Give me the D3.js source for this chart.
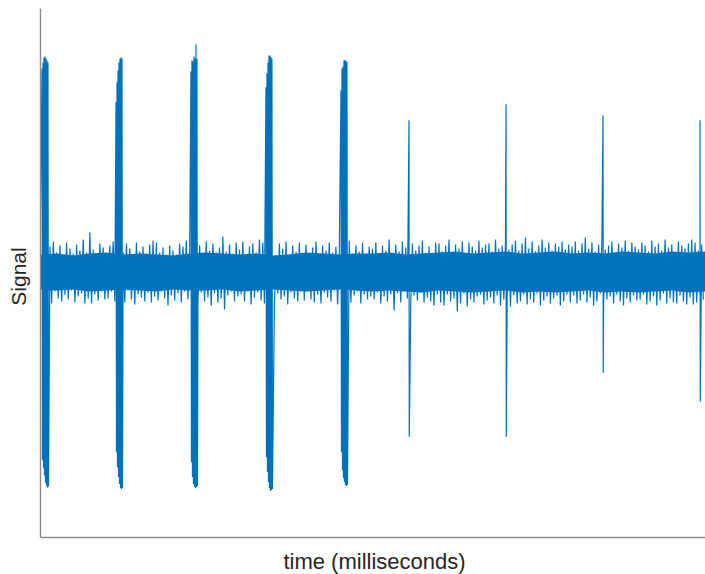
<!DOCTYPE html>
<html>
<head>
<meta charset="utf-8">
<script src="https://cdn.jsdelivr.net/npm/d3@7"></script>
<style>
  html, body { margin: 0; padding: 0; background: #fff; }
  svg { display: block; }
</style>
</head>
<body>
<svg id="chart" width="705" height="574"></svg>
<script>
// ---------------- DATA ----------------
// Noise envelope, one sample every 5 ms (t = 0, 5, ..., 995): upper and lower extremes
const noiseStepMs = 5;
const noiseTop = [
  21,29,18,26,31,20,27,17,30,24,19,28,22,33,20,40,23,18,29,25,
  19,27,31,22,18,20,29,24,17,30,21,26,19,28,32,30,20,25,18,27,
  22,18,29,26,32,19,24,30,27,17,31,22,29,20,25,36,21,28,19,30,
  23,31,18,26,29,20,33,30,19,27,22,17,29,24,31,18,27,21,30,19,
  28,19,25,31,18,27,22,30,20,26,17,29,23,32,19,27,21,30,18,26,
  24,30,19,27,22,33,18,28,21,31,25,18,29,22,27,32,20,26,19,30,
  29,21,27,33,20,28,24,31,19,30,26,22,32,25,28,29,21,33,24,27,
  30,23,28,32,22,29,35,24,31,21,27,33,25,30,22,29,26,31,23,28,
  26,31,22,29,35,24,30,21,28,33,23,27,31,20,29,25,32,22,30,26,
  23,30,27,21,32,26,29,22,33,25,28,20,31,27,24,29,33,30,22,28
];
const noiseBottom = [
  -20,-28,-23,-31,-19,-26,-29,-22,-27,-18,-30,-24,-21,-31,-26,-31,-22,-28,-19,-27,
  -26,-19,-29,-23,-21,-30,-18,-27,-32,-22,-25,-29,-20,-30,-24,-28,-19,-26,-33,-23,
  -28,-21,-30,-19,-27,-24,-22,-31,-20,-29,-25,-33,-21,-30,-26,-37,-23,-19,-29,-24,
  -22,-29,-19,-32,-25,-20,-28,-31,-23,-18,-30,-21,-27,-24,-32,-20,-26,-29,-19,-28,
  -19,-27,-30,-22,-31,-20,-25,-29,-18,-32,-24,-21,-28,-30,-23,-19,-31,-22,-27,-24,
  -27,-20,-31,-24,-29,-22,-38,-21,-30,-19,-26,-32,-23,-28,-20,-30,-25,-29,-33,-22,
  -30,-33,-22,-29,-26,-39,-31,-21,-34,-27,-30,-24,-22,-32,-28,-25,-31,-23,-33,-27,
  -25,-34,-23,-31,-29,-22,-32,-27,-30,-21,-33,-28,-24,-31,-26,-23,-33,-29,-22,-30,
  -23,-31,-28,-22,-30,-25,-33,-29,-21,-32,-27,-24,-31,-22,-29,-33,-26,-30,-23,-28,
  -27,-22,-32,-29,-24,-33,-28,-21,-31,-26,-30,-31,-23,-29,-32,-25,-32,-30,-22,-27
];
// Dense core of the noise band, one value every 25 ms (t = 0 ... 1000)
const coreStepMs = 25;
const coreTop = [
  18,19,17,19,20,18,19,18,17,19,20,19,18,19,17,18,20,19,18,19,
  19,20,18,19,20,21,19,20,21,19,20,21,19,20,19,21,20,19,21,20,21
];
const coreBottom = [
  -17,-18,-17,-19,-18,-17,-18,-19,-17,-18,-18,-17,-19,-18,-17,-18,-19,-18,-17,-18,
  -19,-18,-19,-20,-18,-19,-20,-19,-18,-20,-19,-20,-19,-18,-20,-19,-20,-19,-18,-20,-19
];

// Bursts: start time (ms), envelope every 1.5 ms
const burstStepMs = 1.5;
const burstStart = [3, 114.3, 227, 339.8, 452.6];
const burstTop = [
  [204.5, 210.5, 215.5, 216.5, 214.5, 212.5, 210.5],
  [170.5, 190.5, 202.5, 210.5, 214.5, 215.5, 214.5],
  [201.5, 212.5, 211.5, 216.5, 214.5, 228.5, 214.5],
  [185.5, 199.5, 210.5, 217.5, 217.5, 216, 214],
  [182.5, 204.5, 206.5, 212.5, 213, 212, 211]
];
const burstBottom = [
  [-187.5, -195.5, -203.5, -210.5, -213.5, -215.5, -214.5],
  [-180, -195, -205, -212, -216, -217, -216],
  [-190, -205, -212, -215, -216, -215, -214],
  [-185, -200, -210, -216, -219, -218, -217],
  [-180, -198, -206, -210, -213, -214, -213]
];

// Single spikes: time (ms), upper and lower peak
const spikeTime   = [554.9, 700.8, 846.6, 992.5];
const spikeTop    = [152.5, 168.5, 157.5, 152.5];
const spikeBottom = [-164.5, -164.5, -100.5, -129.5];

// Axis labels
const xLabel = "time (milliseconds)";
const yLabel = "Signal";

// ---------------- CHART ----------------
const svg = d3.select("#chart");
const margin = { left: 40, right: 0, top: 8, bottom: 37 };
const W = 705, H = 574;
const color = "#0072BD";

const x = d3.scaleLinear().domain([0, 1000]).range([margin.left, W - margin.right]);
const y = d3.scaleLinear().domain([-265, 265]).range([H - margin.bottom, margin.top]);

svg.append("defs").append("clipPath").attr("id", "plotclip")
  .append("rect")
  .attr("x", margin.left).attr("y", margin.top)
  .attr("width", W - margin.right - margin.left)
  .attr("height", H - margin.bottom - margin.top);

const g = svg.append("g").attr("clip-path", "url(#plotclip)");

// core band
const coreData = coreTop.map((v, i) => ({ t: i * coreStepMs, hi: v, lo: coreBottom[i] }));
g.append("path")
  .datum(coreData)
  .attr("fill", color)
  .attr("d", d3.area().x(d => x(d.t)).y0(d => y(d.lo)).y1(d => y(d.hi)));

// assemble the signal trace
const burstEnd = burstStart.map((s, b) => s + (burstTop[b].length - 1) * burstStepMs + burstStepMs / 2);
const inBurst = t => burstStart.some((s, b) => t >= s - 0.5 && t <= burstEnd[b] + 0.5);

const pts = [];
noiseTop.forEach((v, i) => {
  const t = i * noiseStepMs;
  if (!inBurst(t)) pts.push([t, v]);
  if (!inBurst(t + noiseStepMs / 2)) pts.push([t + noiseStepMs / 2, noiseBottom[i]]);
});
burstStart.forEach((s, b) => {
  burstTop[b].forEach((v, k) => {
    const t = s + k * burstStepMs;
    pts.push([t, v]);
    pts.push([t + burstStepMs / 2, burstBottom[b][k]]);
  });
});
spikeTime.forEach((t, j) => {
  pts.push([t, spikeTop[j]]);
  pts.push([t + 0.4, spikeBottom[j]]);
});
pts.sort((a, b) => a[0] - b[0]);

g.append("path")
  .datum(pts)
  .attr("fill", "none")
  .attr("stroke", color)
  .attr("stroke-width", 1.2)
  .attr("stroke-linejoin", "miter")
  .attr("d", d3.line().x(d => x(d[0])).y(d => y(d[1])));

// axes (lines only, no ticks)
const axisColor = "#8c8c8c";
const xAxis = svg.append("g")
  .attr("transform", `translate(0,${H - margin.bottom})`)
  .call(d3.axisBottom(x).tickValues([]).tickSizeOuter(0));
const yAxis = svg.append("g")
  .attr("transform", `translate(${margin.left},0)`)
  .call(d3.axisLeft(y).tickValues([]).tickSizeOuter(0));
[xAxis, yAxis].forEach(a => a.select(".domain").attr("stroke", axisColor).attr("stroke-width", 1.4));

svg.append("text")
  .attr("x", (margin.left + W - margin.right) / 2 + 2)
  .attr("y", 569)
  .attr("text-anchor", "middle")
  .attr("font-family", "Liberation Sans, Arial, Helvetica, sans-serif")
  .attr("font-size", 22)
  .attr("fill", "#262626")
  .text(xLabel);

svg.append("text")
  .attr("transform", `translate(26,${(margin.top + H - margin.bottom) / 2 + 4}) rotate(-90)`)
  .attr("text-anchor", "middle")
  .attr("font-family", "Liberation Sans, Arial, Helvetica, sans-serif")
  .attr("font-size", 21)
  .attr("fill", "#262626")
  .text(yLabel);
</script>
</body>
</html>
